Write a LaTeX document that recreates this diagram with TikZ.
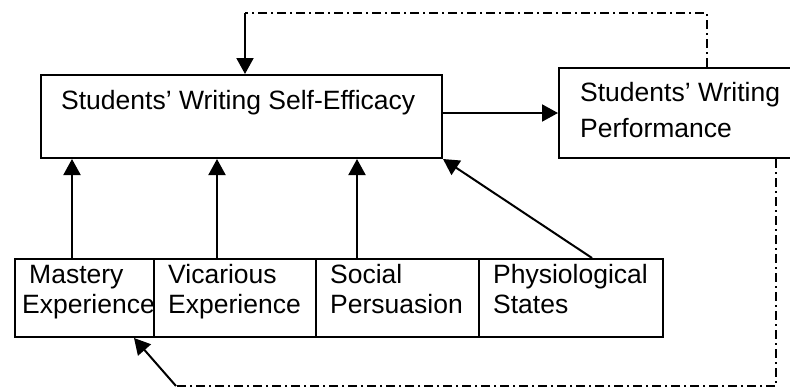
\documentclass[tikz,border=0pt]{standalone}
\usepackage{fontspec}
\setmainfont{Liberation Sans}
\usetikzlibrary{arrows.meta}
\begin{document}
\begin{tikzpicture}[x=1pt,y=-1pt,
  box/.style={draw,line width=2pt,rectangle,inner sep=0pt,anchor=north west},
  txt/.style={inner sep=0pt,anchor=base west,font=\fontsize{26.5}{30}\selectfont},
  arr/.style={line width=2pt,-{Triangle[length=16pt,width=17pt]}},
  dashdotline/.style={line width=1.6pt,dash pattern=on 9pt off 4pt on 2pt off 4pt}]
\useasboundingbox (0,0) rectangle (790,389);
\clip (0,0) rectangle (790,389);
\fill[white] (0,0) rectangle (790,389);
% boxes
\node[box,minimum width=401pt,minimum height=83pt] (se) at (40,74) {};
\node[box,minimum width=250pt,minimum height=90pt] (pf) at (558,67) {};
\node[box,minimum width=139pt,minimum height=78pt] (ma) at (14,258) {};
\node[box,minimum width=162pt,minimum height=78pt] (vi) at (153,258) {};
\node[box,minimum width=163pt,minimum height=78pt] (so) at (315,258) {};
\node[box,minimum width=184pt,minimum height=78pt] (ph) at (478,258) {};
% texts
\node[txt] (tse) at (61,109) {Students’ Writing Self-Efficacy};
\node[txt] (tpf1) at (580,101) {Students’ Writing};
\node[txt] (tpf2) at (580,137) {Performance};
\node[txt] (tma1) at (29,283) {Mastery};
\node[txt] (tma2) at (22,313) {Experience};
\node[txt] (tvi1) at (168,283) {Vicarious};
\node[txt] (tvi2) at (168,313) {Experience};
\node[txt] (tso1) at (330,283) {Social};
\node[txt] (tso2) at (330,313) {Persuasion};
\node[txt] (tph1) at (493,283) {Physiological};
\node[txt] (tph2) at (493,313) {States};
% coordinates
\coordinate (t1) at (245,13);
\coordinate (t2) at (707,13);
\coordinate (b1) at (776,386);
\coordinate (b2) at (176,386);
\coordinate (tip) at (134,338);
\coordinate (a1) at (72,0);
\coordinate (a2) at (217,0);
\coordinate (a3) at (357,0);
\coordinate (a4) at (592,0);
% connectors
\draw[dashdotline] (pf.north -| t2) -- (t2) -- (t1);
\draw[arr] (t1) -- (se.north -| t1);
\draw[arr] (se.east |- 0,113) -- (pf.west |- 0,113);
\draw[arr] (ma.north -| a1) -- (se.south -| a1);
\draw[arr] (vi.north -| a2) -- (se.south -| a2);
\draw[arr] (so.north -| a3) -- (se.south -| a3);
\draw[arr] (ph.north -| a4) -- (se.south east);
\draw[dashdotline] (pf.south -| b1) -- (b1) -- (b2);
\draw[arr] (b2) -- (tip);
\end{tikzpicture}
\end{document}
